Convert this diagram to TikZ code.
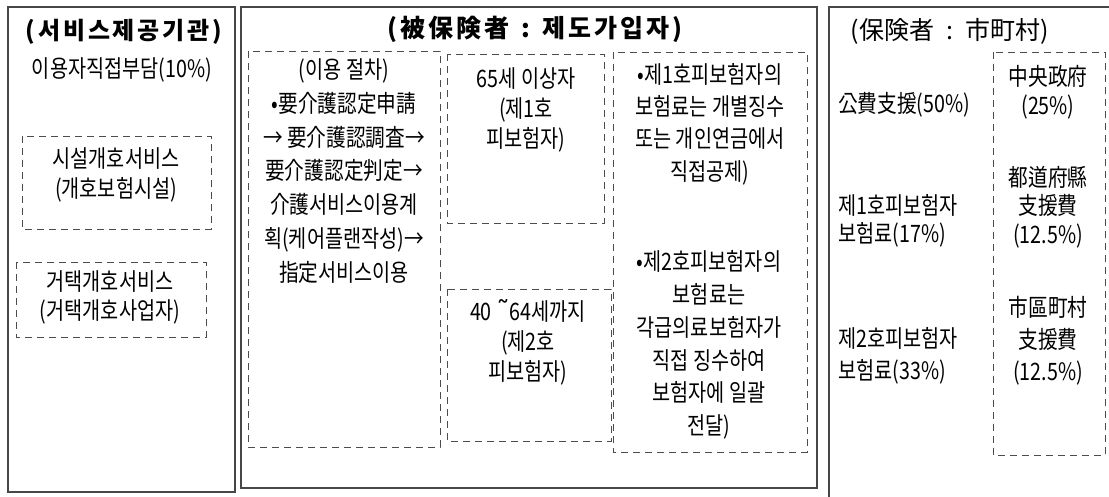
\documentclass[tikz,border=0pt]{standalone}
\usepackage{fontspec}
\setmainfont{Noto Sans CJK KR}
\newfontfamily\bodyfont[FakeStretch=0.82]{Noto Sans CJK KR}
\newfontfamily\headfont{Noto Sans CJK KR}
\newfontfamily\headspaced[LetterSpace=12]{Noto Sans CJK KR}
\newfontfamily\tildefont{DejaVu Sans}
\begin{document}
\begin{tikzpicture}[x=1pt,y=-1pt,
  outer/.style={draw=black!72,line width=1.3pt},
  dbox/.style={draw=black!70,line width=0.9pt,dash pattern=on 7pt off 5pt},
  txt/.style={inner sep=0pt,align=center,font=\bodyfont\fontsize{24}{#1}\selectfont},
  ltxt/.style={inner sep=0pt,align=left,anchor=west,font=\bodyfont\fontsize{24}{#1}\selectfont},
  head/.style={inner sep=0pt,font=\headfont\fontsize{25}{30}\selectfont}]
\useasboundingbox (0,0) rectangle (1109,496);
% outer boxes
\draw[outer] (8,7) rectangle (235,492);
\draw[outer] (241,7) rectangle (817,488);
\draw[outer] (829,500) -- (829,7) -- (1115,7);
% dashed boxes
\draw[dbox] (22,136) rectangle (211,229);
\draw[dbox] (16,262) rectangle (206,337);
\draw[dbox] (248,51) rectangle (440,447);
\draw[dbox] (447,54) rectangle (604,223);
\draw[dbox] (447,289) rectangle (611,441);
\draw[dbox] (613,52) rectangle (807,452);
\draw[dbox] (993,52) rectangle (1105,455);
% headings
\node[head,font=\headspaced\bfseries\fontsize{24}{30}\selectfont] (h1) at (124,32) {(서비스제공기관)};
\node[head,font=\headspaced\bfseries\fontsize{25}{30}\selectfont] (h2) at (535,29) {(被保険者\enspace:\enspace 제도가입자)};
\node[head] (h3) at (950,31) {(保険者\enspace:\enspace 市町村)};
% left column
\node[txt=30] (t1) at (122,70) {이용자직접부담(10\%)};
\node[txt=30] (t2) at (116,175) {시설개호서비스\\(개호보험시설)};
\node[txt=29] (t3) at (110,297) {거택개호서비스\\(거택개호사업자)};
% middle column
\node[txt=33.7] (t4) at (344,171) {(이용 절차)\\•要介護認定申請\\→ 要介護認調査→\\要介護認定判定→\\介護서비스이용계\\획(케어플랜작성)→\\指定서비스이용};
\node[txt=30] (t5) at (526,110) {65세 이상자\\(제1호\\피보험자)};
\node[txt=30] (t6) at (528,342) {40 {\tildefont\fontsize{27}{24}\selectfont ˜}64세까지\\(제2호\\피보험자)};
\node[txt=32.3] (t7) at (710,124) {•제1호피보험자의\\보험료는 개별징수\\또는 개인연금에서\\직접공제)};
\node[txt=32.8] (t8) at (709,345) {•제2호피보험자의\\보험료는\\각급의료보험자가\\직접 징수하여\\보험자에 일괄\\전달)};
% right column
\node[ltxt=30] (r1) at (838,105) {公費支援(50\%)};
\node[ltxt=28] (r2) at (838,221) {제1호피보험자\\보험료(17\%)};
\node[ltxt=32] (r3) at (838,356) {제2호피보험자\\보험료(33\%)};
\node[txt=29] (r4) at (1048,92) {中央政府\\(25\%)};
\node[txt=28.5] (r5) at (1048,207) {都道府縣\\支援費\\(12.5\%)};
\node[txt=32] (r6) at (1048,341) {市區町村\\支援費\\(12.5\%)};
\end{tikzpicture}
\end{document}
